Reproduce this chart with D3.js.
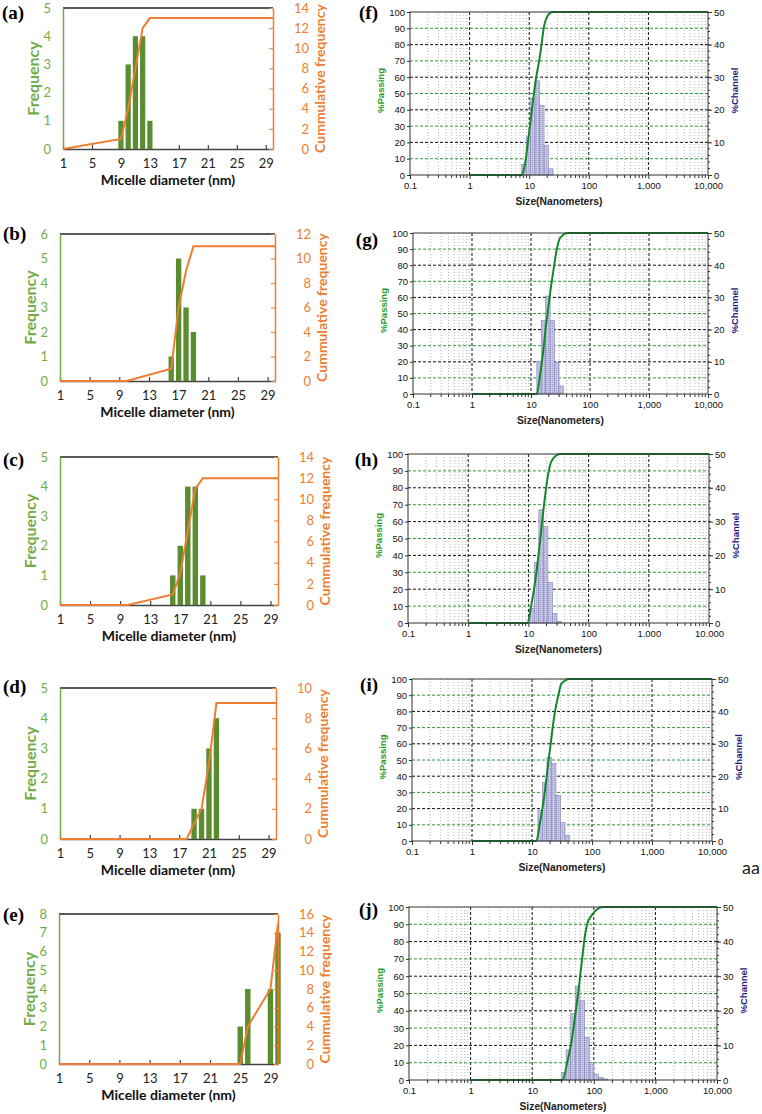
<!DOCTYPE html>
<html><head><meta charset="utf-8">
<script src="https://cdn.jsdelivr.net/npm/d3@7"></script>
<style>
body{margin:0;background:#fff;}
svg{display:block;}
</style></head><body>
<div class="container"></div>
<script>
const width = 762, height = 1114;

// ---- micelle histograms (a)-(e)
const diamA = [9, 10, 11, 12, 13], freqA = [1, 3, 4, 4, 1];
const cumXA = [1, 9, 10, 11, 12, 13, 30], cumYA = [0, 1, 4, 8, 12, 13, 13];
const diamB = [16, 17, 18, 19], freqB = [1, 5, 3, 2];
const cumXB = [1, 10, 16, 17, 18, 19, 30], cumYB = [0, 0, 1, 6, 9, 11, 11];
const diamC = [16, 17, 18, 19, 20], freqC = [1, 2, 4, 4, 1];
const cumXC = [1, 10, 16, 17, 18, 19, 20, 30], cumYC = [0, 0, 1, 3, 7, 11, 12, 12];
const diamD = [19, 20, 21, 22], freqD = [1, 1, 3, 4];
const cumXD = [1, 18, 19, 20, 21, 22, 30], cumYD = [0, 0, 1, 2, 5, 9, 9];
const diamE = [25, 26, 29, 30], freqE = [2, 4, 4, 7];
const cumXE = [1, 25, 26, 29, 30], cumYE = [0, 0, 4, 8, 15];
const freqMax = [5, 6, 5, 5, 8];
const cumMax = [14, 12, 14, 10, 16];
const diamTicks = [1, 5, 9, 13, 17, 21, 25, 29];

// ---- DLS size distributions (f)-(j)
const binsF = [7.46, 8.87, 10.55, 12.55, 14.92, 17.75, 21.1, 25.1];
const chanF = [3.3, 11.7, 23.5, 28.9, 21.4, 9, 1.9];
const passSizeF = [1, 7.45, 8.2, 8.8, 9.5, 10.3, 11.1, 12, 13.1, 14.7, 16.1, 17.5, 20.7, 24.5, 10000];
const passPctF = [0, 0, 4, 10, 20, 30, 40, 50, 60, 70, 80, 90, 98, 100, 100];
const binsG = [12.55, 14.92, 17.75, 21.1, 25.1, 29.85, 35.5];
const chanG = [10.2, 22.9, 30.4, 22.9, 9.8, 2.5];
const passSizeG = [1, 12.6, 14, 15.3, 16.5, 17.6, 19.1, 20.6, 22.5, 24.7, 27.4, 31.1, 43, 10000];
const passPctG = [0, 0, 10, 20, 30, 40, 50, 60, 70, 80, 90, 97, 100, 100];
const binsH = [10.55, 12.55, 14.92, 17.75, 21.1, 25.1, 29.85, 35.5];
const chanH = [4.4, 17.9, 33.5, 28.5, 12, 2.8, 0.5];
const passSizeH = [1, 9.75, 11.1, 12.4, 13.6, 14.7, 15.8, 16.9, 18.2, 19.7, 21.8, 24.4, 33.6, 10000];
const passPctH = [0, 0, 10, 20, 30, 40, 50, 60, 70, 80, 90, 96, 100, 100];
const binsI = [12.55, 14.92, 17.75, 21.1, 25.1, 29.85, 35.5, 42.2];
const chanI = [9.5, 18, 25.8, 23.9, 14.1, 5.7, 1.8];
const passSizeI = [1, 11.8, 13.4, 14.9, 16.3, 17.6, 18.9, 20.5, 22.1, 24.2, 27.5, 30.8, 42.5, 10000];
const passPctI = [0, 0, 10, 20, 30, 40, 50, 60, 70, 80, 90, 97, 100, 100];
const binsJ = [29.85, 35.5, 42.2, 50.2, 59.7, 71, 84.4, 100.4, 119.4, 142, 168.8];
const chanJ = [2.2, 8.7, 19.2, 27.1, 22.9, 12.3, 5, 1.7, 0.7, 0.3];
const passSizeJ = [1, 31, 37, 42.4, 46.8, 51, 55.7, 60, 64.7, 69.7, 78, 91.6, 141.6, 10000];
const passPctJ = [0, 0, 10, 20, 30, 40, 50, 60, 70, 80, 90, 95, 100, 100];
const sizeTicks = [0.1, 1, 10, 100, 1000, 10000];
const sizeLabels = ['0.1', '1', '10', '100', '1,000', '10,000'];
const sizeLabelsDot = ['0.1', '1', '10', '100', '1.000', '10.000'];

// layout (pixel boxes of each plot area)
const histBoxes = [
	{left: 63, right: 273, top: 8, bottom: 149, lx: 2, ly: 19, anchor: 'start'},
	{left: 60, right: 275, top: 234, bottom: 381, lx: 3, ly: 240, anchor: 'start'},
	{left: 60, right: 278, top: 457, bottom: 605, lx: 3, ly: 466, anchor: 'start'},
	{left: 60, right: 276, top: 688, bottom: 839, lx: 3, ly: 693, anchor: 'start'},
	{left: 59, right: 278, top: 914, bottom: 1064, lx: 3, ly: 921, anchor: 'start'}
];
const psdBoxes = [
	{left: 410, right: 708, top: 12, bottom: 175, lx: 378, ly: 19, anchor: 'end'},
	{left: 413, right: 708, top: 233, bottom: 394, lx: 378, ly: 246, anchor: 'end'},
	{left: 408, right: 709, top: 454, bottom: 623, lx: 378, ly: 466, anchor: 'end'},
	{left: 412, right: 712, top: 679, bottom: 841, lx: 378, ly: 691, anchor: 'end'},
	{left: 409, right: 717, top: 907, bottom: 1080, lx: 378, ly: 916, anchor: 'end'}
];

const GREEN = '#70ad47', BAR = '#5b8c30', ORANGE = '#ed7d31';
const CALI = 'Lato, "Open Sans", sans-serif';
const ARIAL = '"Liberation Sans", Arial, sans-serif';

const svg = d3.select('.container').append('svg')
	.attr('width', width).attr('height', height)
	.attr('viewBox', [0, 0, width, height]);

const defs = svg.append('defs');
const pat = defs.append('pattern').attr('id', 'hatch')
	.attr('width', 2).attr('height', 2).attr('patternUnits', 'userSpaceOnUse');
pat.append('rect').attr('width', 2).attr('height', 2).attr('fill', '#c9c9e6');
pat.append('rect').attr('width', 1).attr('height', 1).attr('fill', '#9c9cca');

function panelLabel(b, s) {
	svg.append('text')
		.attr('x', b.lx).attr('y', b.ly)
		.attr('text-anchor', b.anchor)
		.attr('font-family', '"Liberation Serif", "Times New Roman", serif')
		.attr('font-weight', 'bold').attr('font-size', 19)
		.text(s);
}

function drawHist(b, diam, freq, cumX, cumY, yMax, y2Max, label) {
	const g = svg.append('g');
	const x = d3.scaleLinear().domain([1, 30]).range([b.left, b.right]);
	const y = d3.scaleLinear().domain([0, yMax]).range([b.bottom, b.top]);
	const y2 = d3.scaleLinear().domain([0, y2Max]).range([b.bottom, b.top]);

	g.append('line')
		.attr('x1', b.left).attr('x2', b.right)
		.attr('y1', b.top).attr('y2', b.top)
		.attr('stroke', '#222').attr('stroke-width', 1.5);

	const xa = g.append('g')
		.attr('transform', 'translate(0,' + b.bottom + ')')
		.call(d3.axisBottom(x).tickValues(diamTicks).tickSize(-4).tickSizeOuter(0).tickPadding(10));
	xa.select('.domain').attr('stroke', '#444').attr('stroke-width', 1.5);
	xa.selectAll('line').attr('stroke', '#444').attr('stroke-width', 1.2);
	xa.selectAll('text').attr('font-family', CALI).attr('font-size', 13).attr('fill', '#222');

	const bw = x(1.72) - x(1);
	g.append('g').selectAll('rect')
		.data(diam.map((d, i) => ({d: d, f: freq[i]})))
		.join('rect')
		.attr('x', d => x(d.d) - bw / 2)
		.attr('width', bw)
		.attr('y', d => y(d.f))
		.attr('height', d => y(0) - y(d.f))
		.attr('fill', BAR);

	const ya = g.append('g')
		.attr('transform', 'translate(' + b.left + ',0)')
		.call(d3.axisLeft(y).ticks(yMax).tickSize(0).tickPadding(12));
	ya.select('.domain').attr('stroke', GREEN).attr('stroke-width', 1.5);
	ya.selectAll('text').attr('font-family', CALI).attr('font-size', 13).attr('fill', GREEN);

	const ya2 = g.append('g')
		.attr('transform', 'translate(' + b.right + ',0)')
		.call(d3.axisRight(y2).tickValues(d3.range(0, y2Max + 1, 2)).tickSize(-4).tickSizeOuter(0));
	ya2.select('.domain').attr('stroke', ORANGE).attr('stroke-width', 1.5);
	ya2.selectAll('line').attr('stroke', ORANGE);
	ya2.selectAll('text').attr('x', 36).attr('text-anchor', 'end')
		.attr('font-family', CALI).attr('font-size', 13).attr('fill', ORANGE);

	g.append('path')
		.datum(cumX.map((d, i) => [d, cumY[i]]))
		.attr('fill', 'none').attr('stroke', ORANGE).attr('stroke-width', 2)
		.attr('d', d3.line().x(d => x(d[0])).y(d => y2(d[1])));

	const cy = (b.top + b.bottom) / 2;
	g.append('text')
		.attr('transform', 'translate(' + (b.left - 31) + ',' + cy + ') rotate(-90)')
		.attr('text-anchor', 'middle').attr('dominant-baseline', 'central')
		.attr('font-family', CALI).attr('font-weight', 'bold').attr('font-size', 16)
		.attr('fill', GREEN).text('Frequency');
	g.append('text')
		.attr('transform', 'translate(' + (b.right + 46) + ',' + cy + ') rotate(-90)')
		.attr('text-anchor', 'middle').attr('dominant-baseline', 'central')
		.attr('font-family', CALI).attr('font-weight', 'bold').attr('font-size', 14)
		.attr('fill', ORANGE).text('Cummulative frequency');
	g.append('text')
		.attr('x', (b.left + b.right) / 2).attr('y', b.bottom + 30)
		.attr('text-anchor', 'middle').attr('dominant-baseline', 'central')
		.attr('font-family', CALI).attr('font-weight', 'bold').attr('font-size', 14)
		.attr('fill', '#111').text('Micelle diameter (nm)');

	panelLabel(b, label);
}

function drawPsd(b, bins, chan, passSize, passPct, labels, label) {
	const g = svg.append('g');
	const x = d3.scaleLog().domain([0.1, 10000]).range([b.left, b.right]);
	const y = d3.scaleLinear().domain([0, 100]).range([b.bottom, b.top]);
	const y2 = d3.scaleLinear().domain([0, 50]).range([b.bottom, b.top]);
	const minors = x.ticks().filter(v => sizeTicks.indexOf(v) < 0);

	g.append('g').selectAll('line').data(minors).join('line')
		.attr('x1', d => x(d)).attr('x2', d => x(d))
		.attr('y1', b.top).attr('y2', b.bottom)
		.attr('stroke', '#b8b8b8').attr('stroke-width', 1).attr('stroke-dasharray', '1,2');
	g.append('g').selectAll('line').data(sizeTicks.slice(1, -1)).join('line')
		.attr('x1', d => x(d)).attr('x2', d => x(d))
		.attr('y1', b.top).attr('y2', b.bottom)
		.attr('stroke', '#111').attr('stroke-width', 1).attr('stroke-dasharray', '3,2');
	g.append('g').selectAll('line').data(d3.range(10, 100, 10)).join('line')
		.attr('x1', b.left).attr('x2', b.right)
		.attr('y1', d => y(d)).attr('y2', d => y(d))
		.attr('stroke', d => d % 20 ? '#2f9a3a' : '#111')
		.attr('stroke-width', 1).attr('stroke-dasharray', '3,2');

	g.append('g').selectAll('rect')
		.data(chan.map((c, i) => ({a: bins[i], b: bins[i + 1], c: c})))
		.join('rect')
		.attr('x', d => x(d.a)).attr('width', d => x(d.b) - x(d.a))
		.attr('y', d => y2(d.c)).attr('height', d => y2(0) - y2(d.c))
		.attr('fill', 'url(#hatch)').attr('stroke', '#8484b8').attr('stroke-width', 0.6);

	g.append('path')
		.datum(passSize.map((d, i) => [x(d), y(passPct[i])]))
		.attr('fill', 'none').attr('stroke', '#13862a').attr('stroke-width', 2)
		.attr('d', d3.line().curve(d3.curveMonotoneX));

	g.append('rect')
		.attr('x', b.left).attr('y', b.top)
		.attr('width', b.right - b.left).attr('height', b.bottom - b.top)
		.attr('fill', 'none').attr('stroke', '#333').attr('stroke-width', 1);

	const xa = g.append('g')
		.attr('transform', 'translate(0,' + b.bottom + ')')
		.call(d3.axisBottom(x).tickValues(sizeTicks).tickFormat((d, i) => labels[i])
			.tickSize(4).tickSizeOuter(0).tickPadding(3));
	xa.select('.domain').remove();
	g.append('g').selectAll('line').data(minors).join('line')
		.attr('x1', d => x(d)).attr('x2', d => x(d))
		.attr('y1', b.bottom).attr('y2', b.bottom + 3)
		.attr('stroke', '#333');

	const ya = g.append('g')
		.attr('transform', 'translate(' + b.left + ',0)')
		.call(d3.axisLeft(y).tickValues(d3.range(0, 101, 10)).tickSize(3).tickPadding(2));
	ya.select('.domain').remove();

	const ya2 = g.append('g')
		.attr('transform', 'translate(' + b.right + ',0)')
		.call(d3.axisRight(y2).tickValues(d3.range(0, 51, 10)).tickSize(4).tickPadding(2));
	ya2.select('.domain').remove();
	g.append('g').selectAll('line').data(d3.range(2, 50, 2)).join('line')
		.attr('x1', b.right).attr('x2', b.right + 2)
		.attr('y1', d => y2(d)).attr('y2', d => y2(d))
		.attr('stroke', '#333');

	g.selectAll('.tick line').attr('stroke', '#333');
	g.selectAll('.tick text').attr('font-family', ARIAL).attr('font-size', 9.5).attr('fill', '#111');

	const cy = (b.top + b.bottom) / 2 - 3;
	g.append('text')
		.attr('transform', 'translate(' + (b.left - 30) + ',' + cy + ') rotate(-90)')
		.attr('text-anchor', 'middle').attr('dominant-baseline', 'central')
		.attr('font-family', ARIAL).attr('font-weight', 'bold').attr('font-size', 9.5)
		.attr('fill', '#1f9e2a').text('%Passing');
	g.append('text')
		.attr('transform', 'translate(' + (b.right + 26) + ',' + cy + ') rotate(-90)')
		.attr('text-anchor', 'middle').attr('dominant-baseline', 'central')
		.attr('font-family', ARIAL).attr('font-weight', 'bold').attr('font-size', 9.5)
		.attr('fill', '#1c1c7e').text('%Channel');
	g.append('text')
		.attr('x', (b.left + b.right) / 2).attr('y', b.bottom + 26)
		.attr('text-anchor', 'middle').attr('dominant-baseline', 'central')
		.attr('font-family', ARIAL).attr('font-weight', 'bold').attr('font-size', 10.3)
		.attr('fill', '#222').text('Size(Nanometers)');

	panelLabel(b, label);
}

drawHist(histBoxes[0], diamA, freqA, cumXA, cumYA, freqMax[0], cumMax[0], '(a)');
drawHist(histBoxes[1], diamB, freqB, cumXB, cumYB, freqMax[1], cumMax[1], '(b)');
drawHist(histBoxes[2], diamC, freqC, cumXC, cumYC, freqMax[2], cumMax[2], '(c)');
drawHist(histBoxes[3], diamD, freqD, cumXD, cumYD, freqMax[3], cumMax[3], '(d)');
drawHist(histBoxes[4], diamE, freqE, cumXE, cumYE, freqMax[4], cumMax[4], '(e)');

drawPsd(psdBoxes[0], binsF, chanF, passSizeF, passPctF, sizeLabels, '(f)');
drawPsd(psdBoxes[1], binsG, chanG, passSizeG, passPctG, sizeLabels, '(g)');
drawPsd(psdBoxes[2], binsH, chanH, passSizeH, passPctH, sizeLabelsDot, '(h)');
drawPsd(psdBoxes[3], binsI, chanI, passSizeI, passPctI, sizeLabels, '(i)');
drawPsd(psdBoxes[4], binsJ, chanJ, passSizeJ, passPctJ, sizeLabels, '(j)');

svg.append('text')
	.attr('x', 742).attr('y', 874)
	.attr('font-family', CALI).attr('font-size', 18).attr('fill', '#222')
	.text('aa');
</script>
</body></html>
